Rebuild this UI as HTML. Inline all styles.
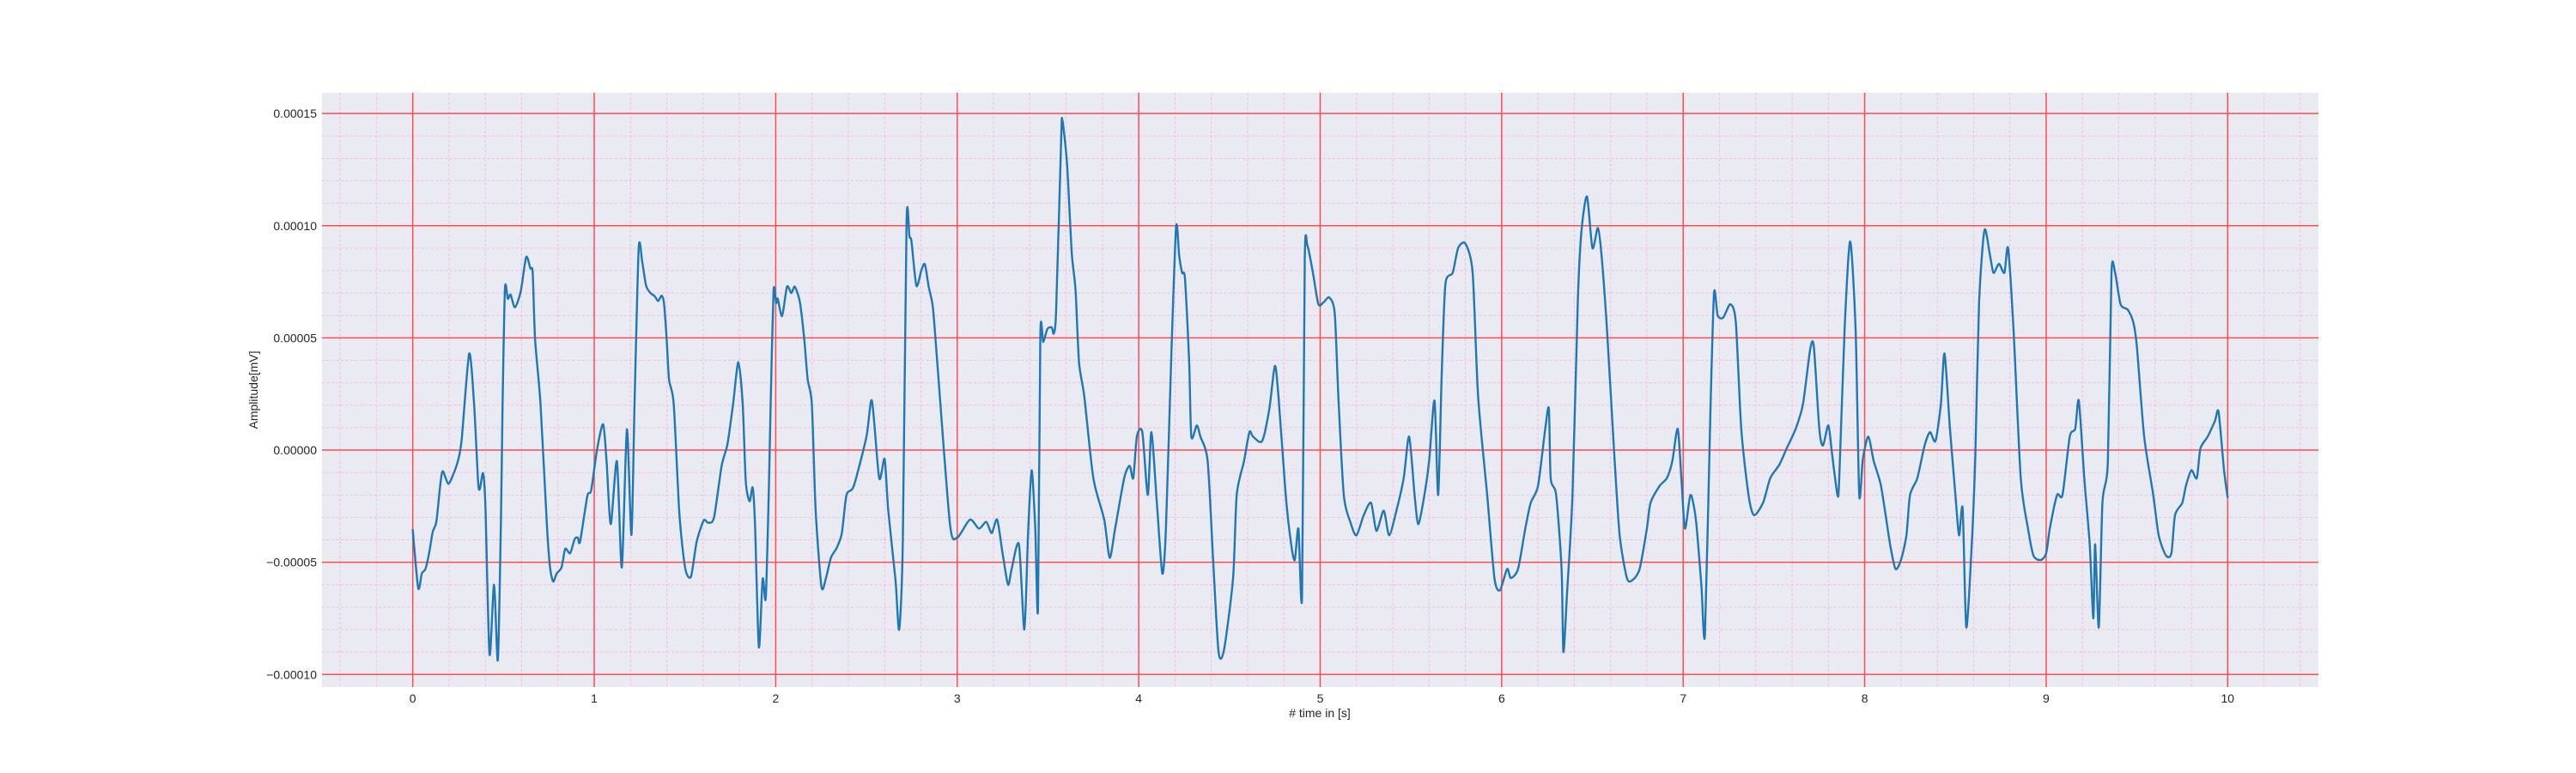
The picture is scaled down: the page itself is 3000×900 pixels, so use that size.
<!DOCTYPE html>
<html><head><meta charset="utf-8"><style>
html,body{margin:0;padding:0;background:#fff;width:3000px;height:900px;overflow:hidden}
svg text{font-family:"Liberation Sans",Arial,sans-serif;fill:#262626}
</style></head><body>
<svg id="chart" width="3000" height="900" xmlns="http://www.w3.org/2000/svg">
<rect x="375" y="108" width="2325" height="692" fill="#eaeaf2"/>
<g id="grid"></g><g id="series"></g><g id="ticks"></g>
<text x="1537" y="835" font-size="14" text-anchor="middle"># time in [s]</text>
<text x="0" y="0" font-size="14" text-anchor="middle" transform="translate(300,454) rotate(-90)">Amplitude[mV]</text>
</svg>
<script>
// time (s)
const times = [0,0.03,0.05,0.07,0.09,0.11,0.13,0.15,0.165,0.195,0.22,0.25,0.27,0.311,0.338,0.36,0.37,0.387,0.40,0.423,0.448,0.469,0.486,0.495,0.508,0.524,0.539,0.563,0.595,0.625,0.648,0.661,0.674,0.704,0.74,0.757,0.774,0.793,0.82,0.84,0.867,0.892,0.909,0.922,0.962,0.983,1.015,1.049,1.068,1.091,1.125,1.152,1.18,1.205,1.222,1.245,1.265,1.286,1.31,1.334,1.352,1.371,1.384,1.399,1.412,1.438,1.469,1.501,1.533,1.564,1.603,1.628,1.66,1.702,1.734,1.765,1.794,1.818,1.835,1.856,1.873,1.886,1.907,1.928,1.945,1.962,1.972,1.988,2.002,2.011,2.035,2.062,2.086,2.105,2.133,2.157,2.176,2.199,2.22,2.252,2.277,2.304,2.336,2.364,2.39,2.43,2.5,2.53,2.57,2.6,2.62,2.66,2.68,2.70,2.721,2.737,2.748,2.775,2.803,2.822,2.843,2.866,2.89,2.96,3.0,3.07,3.12,3.16,3.19,3.22,3.25,3.28,3.3,3.34,3.37,3.39,3.41,3.43,3.445,3.458,3.474,3.497,3.521,3.532,3.545,3.573,3.579,3.605,3.631,3.652,3.671,3.70,3.75,3.81,3.84,3.87,3.92,3.95,3.97,3.99,4.02,4.05,4.07,4.1,4.13,4.15,4.18,4.206,4.223,4.239,4.255,4.278,4.29,4.32,4.34,4.38,4.41,4.44,4.47,4.52,4.54,4.58,4.61,4.63,4.68,4.72,4.75,4.77,4.81,4.84,4.86,4.88,4.9,4.915,4.93,4.96,4.99,5.02,5.05,5.08,5.1,5.13,5.17,5.2,5.24,5.28,5.31,5.35,5.38,5.42,5.46,5.49,5.52,5.54,5.57,5.6,5.63,5.65,5.67,5.69,5.73,5.76,5.8,5.84,5.87,5.92,5.96,5.99,6.03,6.05,6.09,6.13,6.16,6.2,6.24,6.26,6.27,6.3,6.33,6.34,6.36,6.39,6.42,6.44,6.47,6.5,6.53,6.55,6.58,6.62,6.65,6.69,6.72,6.76,6.8,6.82,6.87,6.91,6.94,6.97,6.99,7.01,7.04,7.07,7.1,7.12,7.15,7.17,7.19,7.22,7.26,7.29,7.32,7.36,7.39,7.44,7.48,7.53,7.57,7.62,7.66,7.7,7.72,7.75,7.77,7.8,7.82,7.85,7.86,7.89,7.92,7.95,7.97,7.99,8.02,8.05,8.09,8.14,8.17,8.2,8.23,8.25,8.29,8.33,8.36,8.39,8.42,8.44,8.47,8.5,8.52,8.54,8.56,8.59,8.61,8.63,8.66,8.69,8.71,8.74,8.77,8.79,8.82,8.86,8.9,8.93,8.97,9.0,9.02,9.06,9.09,9.13,9.16,9.18,9.21,9.24,9.26,9.27,9.29,9.31,9.34,9.36,9.38,9.41,9.45,9.48,9.5,9.54,9.59,9.62,9.66,9.69,9.71,9.75,9.77,9.8,9.83,9.85,9.89,9.93,9.95,9.98,10.0];
// amplitude in units of 1e-5 mV
const ampE5 = [-3.56,-6.15,-5.5,-5.3,-4.6,-3.65,-3.2,-1.67,-0.94,-1.5,-1.15,-0.45,0.5,4.3,2.05,-1.4,-1.73,-1.03,-2.4,-9.1,-6.0,-9.36,-3.1,2.05,7.2,6.74,6.93,6.36,7.07,8.6,8.1,7.9,4.95,2.05,-3.46,-5.26,-5.86,-5.5,-5.23,-4.4,-4.6,-3.97,-3.9,-4.08,-2.05,-1.8,0,1.15,-0.5,-3.3,-0.5,-5.23,0.92,-3.78,2.05,9.0,8.35,7.32,7.0,6.85,6.64,6.88,6.56,4.96,3.15,2.05,-2.82,-5.26,-5.64,-4.1,-3.14,-3.24,-3.0,-0.7,0.26,2.05,3.92,2.05,-1.4,-2.28,-1.67,-3.33,-8.78,-5.74,-6.6,-1.8,2.05,7.1,6.55,6.75,5.97,7.28,7.0,7.28,6.6,4.96,3.15,2.05,-2.69,-6.09,-5.7,-4.8,-4.36,-3.72,-2.0,-1.6,0.6,2.2,-1.25,-0.4,-2.7,-5.8,-8.0,-4.2,10.2,9.5,9.3,7.32,8.03,8.28,7.27,6.36,3.92,-3.3,-3.9,-3.1,-3.5,-3.2,-3.7,-3.1,-4.6,-6.0,-5.3,-4.2,-8.0,-3.8,-0.9,-3.5,-7.1,5.14,4.82,5.4,5.46,5.2,6.23,13.9,14.72,12.77,8.8,7.13,3.92,2.4,-1.25,-3.1,-4.8,-3.5,-1.25,-0.7,-1.25,0.6,0.8,-2.0,0.8,-2.35,-5.5,-3.5,4.3,9.95,8.67,7.9,7.64,3.92,0.6,1.1,0.6,-0.5,-4.9,-9.0,-8.9,-5.7,-2.0,-0.5,0.8,0.6,0.4,1.85,3.75,2.4,-2.0,-4.2,-4.9,-3.5,-6.5,8.5,9.1,7.9,6.5,6.6,6.8,6.1,2.4,-2.0,-3.3,-3.8,-2.9,-2.35,-3.6,-2.7,-3.8,-2.7,-1.25,0.6,-2.0,-3.3,-2.2,-0.5,2.2,-2.0,3.5,7.4,7.9,9.0,9.2,7.9,2.4,-2.0,-5.7,-6.25,-5.3,-5.7,-5.3,-3.5,-2.35,-1.6,0.95,1.85,-1.25,-2.0,-5.3,-9.0,-6.4,-2.0,6.8,9.8,11.3,9.0,9.9,8.7,5.4,-0.15,-3.8,-5.7,-5.8,-5.3,-3.5,-2.35,-1.6,-1.25,-0.5,0.95,-1.25,-3.5,-2.0,-3.1,-6.0,-8.2,1.7,7.0,6.0,5.9,6.5,5.7,0.95,-2.0,-2.9,-2.35,-1.25,-0.65,0.07,0.95,2.05,4.5,4.6,0.95,0.2,1.1,-0.15,-2.0,-1.25,5.5,9.3,5.4,-2.0,-0.4,0.6,-0.5,-1.6,-4.2,-5.3,-4.9,-3.8,-2.0,-1.25,0.2,0.8,0.4,2.05,4.3,0.95,-2.0,-3.8,-2.6,-7.9,-4.2,-0.15,6.5,9.8,8.7,7.9,8.3,7.9,9.0,5.4,-1.25,-3.5,-4.7,-4.9,-4.6,-3.5,-2.0,-2.0,0.6,0.95,2.2,-1.25,-4.2,-7.5,-4.2,-7.9,-2.35,-0.5,7.9,7.9,6.5,6.25,5.7,4.6,0.6,-2.0,-3.8,-4.7,-4.6,-2.9,-2.35,-1.6,-0.9,-1.25,0.07,0.6,1.3,1.7,-0.9,-2.1];
const xTickLabels = ["0","1","2","3","4","5","6","7","8","9","10"];
const xTickValues = [0,1,2,3,4,5,6,7,8,9,10];
const yTickLabels = ["\u22120.00010","\u22120.00005","0.00000","0.00005","0.00010","0.00015"];
const yTickValues = [-0.0001,-0.00005,0,0.00005,0.0001,0.00015];

const PL=375, PR=2700, PT=108, PB=800;
const values = ampE5.map(v=>v*1e-5);
const tmin=Math.min(...times), tmax=Math.max(...times);
const vmin=Math.min(...values), vmax=Math.max(...values);
const xm=(tmax-tmin)*0.05, ym=(vmax-vmin)*0.05;
const X0=tmin-xm, X1=tmax+xm, Y0=vmin-ym, Y1=vmax+ym;
const sx=t=>PL+(t-X0)/(X1-X0)*(PR-PL);
const sy=v=>PB-(v-Y0)/(Y1-Y0)*(PB-PT);
const NS='http://www.w3.org/2000/svg';
const grid=document.getElementById('grid'), ticks=document.getElementById('ticks'), series=document.getElementById('series');
function mk(tag,attrs,parent){const e=document.createElementNS(NS,tag);for(const k in attrs)e.setAttribute(k,attrs[k]);parent.appendChild(e);return e;}

// minor grid
for(let t=Math.ceil(X0/0.2)*0.2;t<=X1;t+=0.2){
  if(Math.abs(t-Math.round(t))<1e-6) continue;
  const l=mk('line',{x1:sx(t),x2:sx(t),y1:PT,y2:PB,stroke:'#f4b4e6','stroke-width':0.9,'stroke-dasharray':'3,2.5'},grid);
  
  
}
for(let k=Math.ceil(Y0/1e-5);k*1e-5<=Y1;k++){
  if(k%5===0) continue;
  const v=k*1e-5;
  const l=mk('line',{x1:PL,x2:PR,y1:sy(v),y2:sy(v),stroke:'#f4b4e6','stroke-width':0.9,'stroke-dasharray':'3,2.5'},grid);
  
  
}
// major grid + ticks
xTickValues.forEach((t,i)=>{
  const l=mk('line',{x1:sx(t),x2:sx(t),y1:PT,y2:PB,stroke:'#ff4d4d','stroke-width':1.5},grid);
  
  
  const tx=mk('text',{x:sx(t),y:PB+18,'font-size':14,'text-anchor':'middle'},ticks);
  tx.textContent=xTickLabels[i];
  
  
});
yTickValues.forEach((v,i)=>{
  const l=mk('line',{x1:PL,x2:PR,y1:sy(v),y2:sy(v),stroke:'#ff4d4d','stroke-width':1.5},grid);
  
  
  const tx=mk('text',{x:PL-6,y:sy(v)+5,'font-size':14,'text-anchor':'end'},ticks);
  tx.textContent=yTickLabels[i];
  
  
});
// series
const pts=times.map((t,i)=>[sx(t),sy(values[i])]);
let d='M'+pts[0][0].toFixed(2)+','+pts[0][1].toFixed(2);
for(let i=0;i<pts.length-1;i++){
  const p0=pts[Math.max(0,i-1)],p1=pts[i],p2=pts[i+1],p3=pts[Math.min(pts.length-1,i+2)];
  const k=1/8;
  const c1=[p1[0]+(p2[0]-p0[0])*k,p1[1]+(p2[1]-p0[1])*k];
  const c2=[p2[0]-(p3[0]-p1[0])*k,p2[1]-(p3[1]-p1[1])*k];
  d+='C'+c1[0].toFixed(2)+','+c1[1].toFixed(2)+' '+c2[0].toFixed(2)+','+c2[1].toFixed(2)+' '+p2[0].toFixed(2)+','+p2[1].toFixed(2);
}
const path=mk('path',{d:d,fill:'none',stroke:'#1f77b4','stroke-width':2.4,'stroke-linejoin':'round','stroke-linecap':'round'},series);


</script>
</body></html>
